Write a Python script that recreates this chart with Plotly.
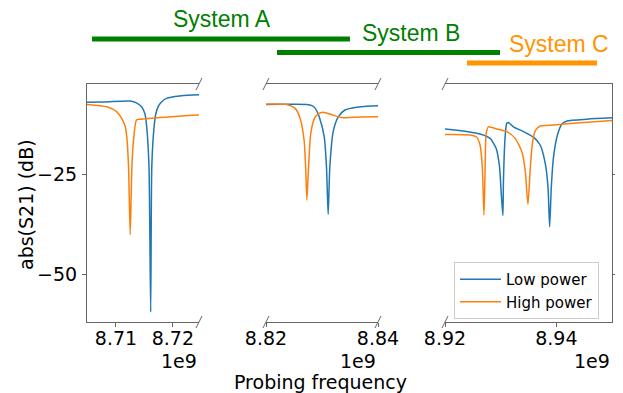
import plotly.graph_objects as go

# page body has an 8px default margin: the figure is drawn 8px in from the window corner
OFF = 8
WIN_W, WIN_H = 623, 393
W, H = WIN_W - OFF, WIN_H - OFF

# ---- data (frequency in units of 1e9 Hz, transmission in dB) ----
freq_low = [8.7040, 8.7080, 8.7125, 8.7136, 8.7145, 8.7151, 8.7154, 8.7158, 8.7161, 8.7163,
            8.7167, 8.7170, 8.7174, 8.7180, 8.7189, 8.7212, 8.7250,
            8.8190, 8.8273, 8.8282, 8.8288, 8.8296, 8.8304, 8.8308, 8.8311, 8.8314, 8.8320,
            8.8329, 8.8341, 8.8362, 8.8410,
            8.9190, 8.9233, 8.9263, 8.9281, 8.9292, 8.9298, 8.9301, 8.9304, 8.9305, 8.9308,
            8.9311, 8.9314, 8.9323, 8.9341, 8.9359, 8.9371, 8.9380, 8.9385, 8.9388, 8.9391,
            8.9395, 8.9402, 8.9410, 8.9419, 8.9455, 8.9510]
db_low = [-7.1, -7.0, -6.75, -7.2, -8.2, -10.0, -13.2, -23.0, -59.5, -23.0,
          -13.2, -10.0, -8.2, -7.0, -6.1, -5.5, -5.2,
          -7.6, -7.6, -7.9, -8.6, -11.1, -15.7, -23.2, -35.1, -23.2, -14.4,
          -10.7, -9.0, -8.3, -7.9,
          -13.6, -14.25, -15.0, -16.1, -18.6, -23.2, -29.8, -35.4, -26.6, -15.7,
          -12.3, -12.1, -13.2, -14.4, -15.8, -17.75, -22.3, -28.2, -38.2, -28.2,
          -20.7, -15.25, -12.5, -11.75, -11.3, -10.9]

freq_high = [8.7040, 8.7084, 8.7101, 8.7110, 8.7116, 8.7119, 8.7122, 8.7125, 8.7128, 8.7132,
             8.7136, 8.7142, 8.7250,
             8.8190, 8.8237, 8.8252, 8.8261, 8.8268, 8.8271, 8.8273, 8.8276, 8.8280, 8.8288,
             8.8299, 8.8314, 8.8335, 8.8356, 8.8410,
             8.9190, 8.9245, 8.9257, 8.9263, 8.9267, 8.9270, 8.9272, 8.9274, 8.9278, 8.9293,
             8.9311, 8.9326, 8.9338, 8.9344, 8.9349, 8.9353, 8.9357, 8.9362, 8.9371, 8.9395,
             8.9443, 8.9510]
db_high = [-7.5, -8.2, -9.4, -11.1, -13.0, -15.7, -23.0, -40.2, -23.0, -14.8,
           -11.5, -11.3, -10.25,
           -7.5, -7.6, -8.6, -11.1, -16.5, -24.0, -31.5, -23.2, -14.8, -10.7,
           -9.6, -10.0, -10.9, -10.8, -10.7,
           -15.1, -15.25, -15.8, -17.75, -23.2, -35.3, -24.0, -14.8, -13.2, -13.75,
           -14.4, -16.1, -19.4, -24.0, -32.6, -24.0, -17.3, -14.2, -13.0, -12.75,
           -12.2, -11.5]

series_names = ["Low power", "High power"]
series_colors = ["#1f77b4", "#ff7f0e"]

x_ranges = [[8.7049, 8.7246], [8.82, 8.84], [8.92, 8.95]]
x_tickvals = [[8.71, 8.72], [8.82, 8.84], [8.92, 8.94]]
x_ticktext = [["8.71", "8.72"], ["8.82", "8.84"], ["8.92", "8.94"]]
y_range = [-62, -2.5]
y_tickvals = [-25, -50]
y_ticktext = ["\u221225", "\u221250"]

systems = ["System A", "System B", "System C"]
system_colors = ["#008000", "#008000", "#ff9500"]

# ---- layout geometry (window pixels -> paper fractions) ----
def px_x(p):
    return (p - OFF) / W

def px_y(p):
    return 1 - (p - OFF) / H

dom_px = [(87, 199), (266, 378), (445, 612)]
y_top_px, y_bot_px = 84, 322
domains = [[px_x(a), px_x(b)] for a, b in dom_px]
ydom = [px_y(y_bot_px), px_y(y_top_px)]

fig = go.Figure()
for i in range(3):
    xa = "x" if i == 0 else f"x{i+1}"
    ya = "y" if i == 0 else f"y{i+1}"
    for (fx, dy), name, col in zip([(freq_low, db_low), (freq_high, db_high)], series_names, series_colors):
        fig.add_trace(go.Scatter(x=fx, y=dy, mode="lines", name=name, xaxis=xa, yaxis=ya,
                                 line=dict(color=col, width=1.5, shape="spline", smoothing=0.6),
                                 legendgroup=name, showlegend=(i == 2)))

spine = "#666666"
tickfont = dict(family="DejaVu Sans", size=19, color="black")
layout = dict(template="none", width=W, height=H, margin=dict(l=0, r=0, t=0, b=0, pad=0),
              plot_bgcolor="white", paper_bgcolor="white", showlegend=True,
              font=dict(family="DejaVu Sans", color="black"))
for i in range(3):
    key = "" if i == 0 else str(i + 1)
    layout["xaxis" + key] = dict(domain=domains[i], range=x_ranges[i], tickvals=x_tickvals[i],
                                 ticktext=x_ticktext[i], anchor="y" + key, showgrid=False,
                                 zeroline=False, showline=True, mirror=True, linecolor=spine,
                                 linewidth=1, ticks="outside", ticklen=4, tickcolor=spine,
                                 tickwidth=1, tickfont=tickfont, automargin=False,
                                 ticklabelstandoff=-5)
    ya = dict(domain=ydom, range=y_range, anchor="x" + key, showgrid=False, zeroline=False,
              automargin=False)
    if i == 0:
        ya.update(showline=True, linecolor=spine, linewidth=1, ticks="outside", ticklen=4,
                  tickcolor=spine, tickwidth=1, tickvals=y_tickvals, ticktext=y_ticktext,
                  tickfont=tickfont, ticklabelstandoff=1)
    elif i == 1:
        ya.update(showline=False, showticklabels=False, ticks="")
    else:
        ya.update(side="right", showline=True, linecolor=spine, linewidth=1, ticks="outside",
                  ticklen=4, tickcolor=spine, tickwidth=1, tickvals=y_tickvals,
                  showticklabels=False)
    layout["yaxis" + key] = ya

layout["legend"] = dict(x=px_x(599), y=px_y(319), xanchor="right", yanchor="bottom",
                        bgcolor="rgba(255,255,255,0.8)", bordercolor="#cccccc", borderwidth=1,
                        font=dict(family="DejaVu Sans", size=15, color="black"),
                        itemwidth=41, tracegroupgap=0)
fig.update_layout(**layout)

# broken-axis diagonal marks
shapes = []
break_x = [dom_px[0][1], dom_px[1][0], dom_px[1][1], dom_px[2][0]]
for bx in break_x:
    for by in (y_top_px, y_bot_px):
        shapes.append(dict(type="line", xref="paper", yref="paper",
                           x0=px_x(bx - 3), y0=px_y(by + 6), x1=px_x(bx + 3), y1=px_y(by - 6),
                           line=dict(color=spine, width=1)))

# system range bars
bar_px = [(92, 350, 39), (277, 500, 52.5), (467, 597, 63)]
for (a, b, yy), col in zip(bar_px, system_colors):
    shapes.append(dict(type="line", xref="paper", yref="paper", x0=px_x(a), x1=px_x(b),
                       y0=px_y(yy), y1=px_y(yy), line=dict(color=col, width=5)))
fig.update_layout(shapes=shapes)

annotations = []
label_px = [(222, 19), (411, 33), (559, 44)]
for txt, (lx, ly), col in zip(systems, label_px, system_colors):
    annotations.append(dict(text=txt, x=px_x(lx), y=px_y(ly), xref="paper", yref="paper",
                            showarrow=False, xanchor="center", yanchor="middle", borderpad=0,
                            font=dict(family="Liberation Sans", size=23, color=col)))
for a, b in dom_px:
    annotations.append(dict(text="1e9", x=px_x(b), y=px_y(361), xref="paper", yref="paper",
                            showarrow=False, xanchor="right", yanchor="middle",
                            font=dict(family="DejaVu Sans", size=19, color="black")))
annotations.append(dict(text="Probing frequency", x=px_x(320), y=px_y(382), xref="paper",
                        yref="paper", showarrow=False, xanchor="center", yanchor="middle",
                        font=dict(family="DejaVu Sans", size=19, color="black")))
annotations.append(dict(text="abs(S21) (dB)", x=px_x(26), y=px_y(205), xref="paper",
                        yref="paper", showarrow=False, xanchor="center", yanchor="middle",
                        textangle=-90, font=dict(family="DejaVu Sans", size=19, color="black")))
fig.update_layout(annotations=annotations)

fig.write_html("out.html")
